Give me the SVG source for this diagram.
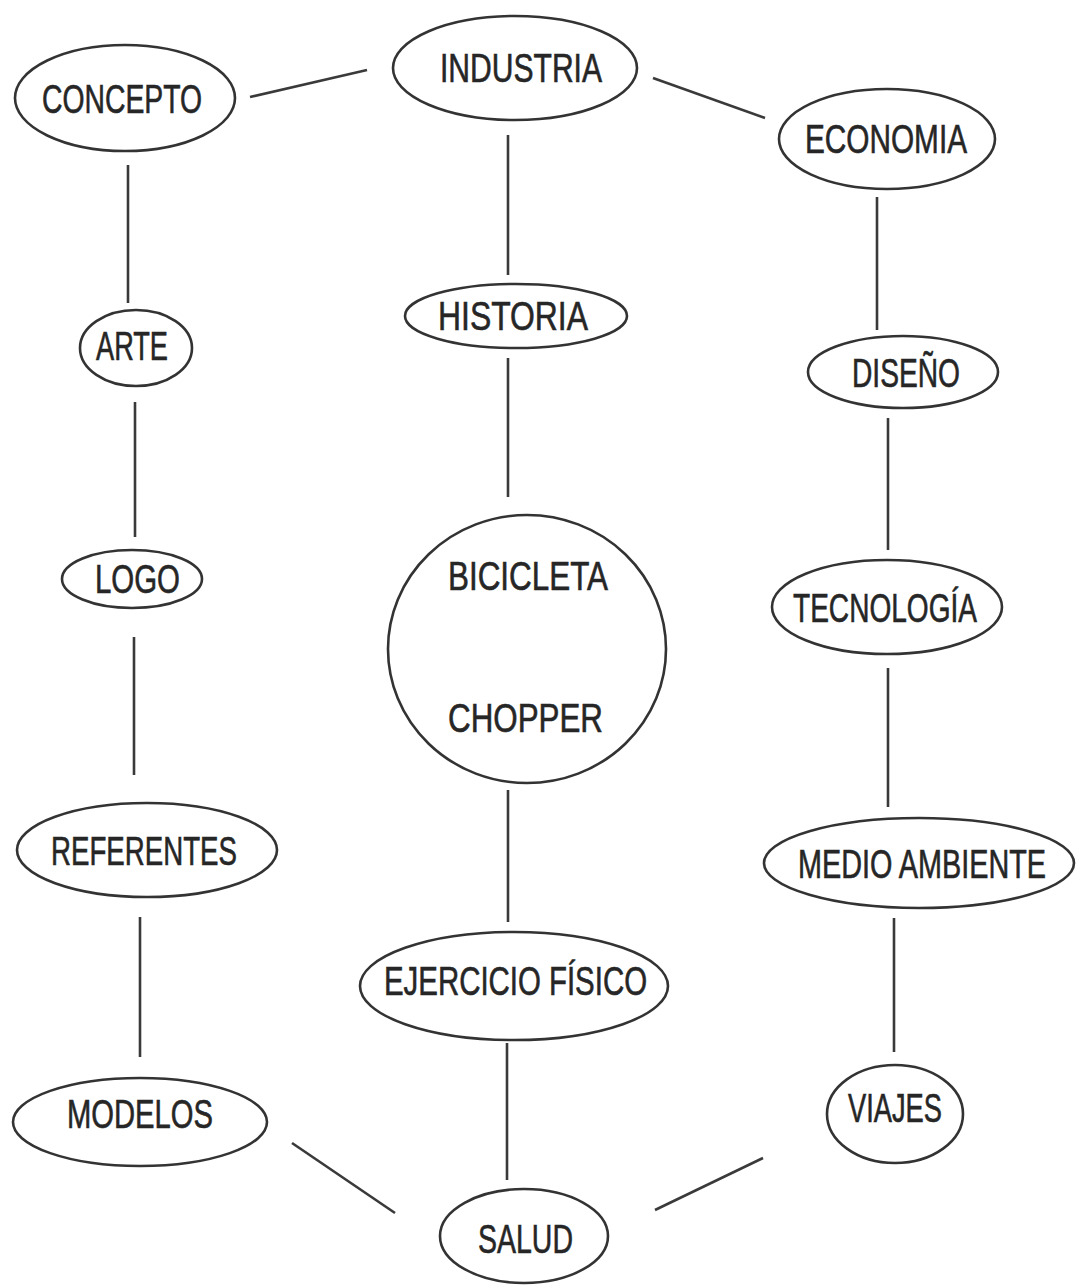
<svg xmlns="http://www.w3.org/2000/svg" width="1082" height="1285" viewBox="0 0 1082 1285">
<style>
.n{fill:#fff;stroke:#333;stroke-width:2.6}
.t{font-family:"Liberation Sans",Arial,sans-serif;font-size:40px;fill:#262626;stroke:#262626;stroke-width:0.6}
.c line{stroke:#3a3a3a;stroke-width:2.6;stroke-linecap:butt}
</style>
<rect width="1082" height="1285" fill="#fff"/>
<g class="c" id="connectors">
<line x1="250" y1="97" x2="367" y2="70"/>
<line x1="653" y1="78" x2="765" y2="118"/>
<line x1="508" y1="135" x2="508" y2="275"/>
<line x1="508" y1="358" x2="508" y2="497"/>
<line x1="508" y1="790" x2="508" y2="922"/>
<line x1="507" y1="1043" x2="507" y2="1180"/>
<line x1="128" y1="165" x2="128" y2="303"/>
<line x1="135" y1="402" x2="135" y2="537"/>
<line x1="134" y1="637" x2="134" y2="775"/>
<line x1="140" y1="917" x2="140" y2="1057"/>
<line x1="292" y1="1143" x2="395" y2="1213"/>
<line x1="877" y1="197" x2="877" y2="330"/>
<line x1="888" y1="418" x2="888" y2="550"/>
<line x1="888" y1="668" x2="888" y2="807"/>
<line x1="894" y1="918" x2="894" y2="1052"/>
<line x1="763" y1="1158" x2="655" y2="1210"/>
</g>
<g id="concepto"><ellipse class="n" cx="125" cy="98" rx="110" ry="53"/><text class="t" x="42" y="113" textLength="160" lengthAdjust="spacingAndGlyphs">CONCEPTO</text></g>
<g id="industria"><ellipse class="n" cx="515" cy="68" rx="122" ry="52"/><text class="t" x="440" y="82" textLength="162" lengthAdjust="spacingAndGlyphs">INDUSTRIA</text></g>
<g id="economia"><ellipse class="n" cx="887" cy="139" rx="108" ry="50"/><text class="t" x="805" y="153" textLength="162" lengthAdjust="spacingAndGlyphs">ECONOMIA</text></g>
<g id="arte"><ellipse class="n" cx="136" cy="348" rx="56" ry="38"/><text class="t" x="96" y="360" textLength="72" lengthAdjust="spacingAndGlyphs">ARTE</text></g>
<g id="historia"><ellipse class="n" cx="516" cy="316" rx="111" ry="32"/><text class="t" x="438" y="330" textLength="150" lengthAdjust="spacingAndGlyphs">HISTORIA</text></g>
<g id="diseno"><ellipse class="n" cx="903" cy="372" rx="95" ry="36"/><text class="t" x="852" y="387" textLength="108" lengthAdjust="spacingAndGlyphs">DISEÑO</text></g>
<g id="logo"><ellipse class="n" cx="132" cy="579" rx="70" ry="29"/><text class="t" x="95" y="593" textLength="85" lengthAdjust="spacingAndGlyphs">LOGO</text></g>
<g id="bicicleta-chopper"><ellipse class="n" cx="527" cy="649" rx="139" ry="134"/><text class="t" x="448" y="590" textLength="160" lengthAdjust="spacingAndGlyphs">BICICLETA</text><text class="t" x="448" y="732" textLength="155" lengthAdjust="spacingAndGlyphs">CHOPPER</text></g>
<g id="tecnologia"><ellipse class="n" cx="887" cy="607" rx="115" ry="47"/><text class="t" x="793" y="622" textLength="184" lengthAdjust="spacingAndGlyphs">TECNOLOGÍA</text></g>
<g id="referentes"><ellipse class="n" cx="147" cy="850" rx="130" ry="47"/><text class="t" x="51" y="865" textLength="186" lengthAdjust="spacingAndGlyphs">REFERENTES</text></g>
<g id="medio-ambiente"><ellipse class="n" cx="919" cy="863" rx="155" ry="45"/><text class="t" transform="translate(798 878) scale(0.72 1)">MEDIO AMBIENTE</text></g>
<g id="ejercicio-fisico"><ellipse class="n" cx="514" cy="986" rx="154" ry="54"/><text class="t" x="384" y="995" textLength="263" lengthAdjust="spacingAndGlyphs">EJERCICIO FÍSICO</text></g>
<g id="modelos"><ellipse class="n" cx="140" cy="1122" rx="127" ry="44"/><text class="t" x="67" y="1128" textLength="146" lengthAdjust="spacingAndGlyphs">MODELOS</text></g>
<g id="viajes"><ellipse class="n" cx="895" cy="1114" rx="68" ry="49"/><text class="t" x="848" y="1122" textLength="94" lengthAdjust="spacingAndGlyphs">VIAJES</text></g>
<g id="salud"><ellipse class="n" cx="524" cy="1236" rx="84" ry="47"/><text class="t" x="478" y="1253" textLength="95" lengthAdjust="spacingAndGlyphs">SALUD</text></g>
</svg>
